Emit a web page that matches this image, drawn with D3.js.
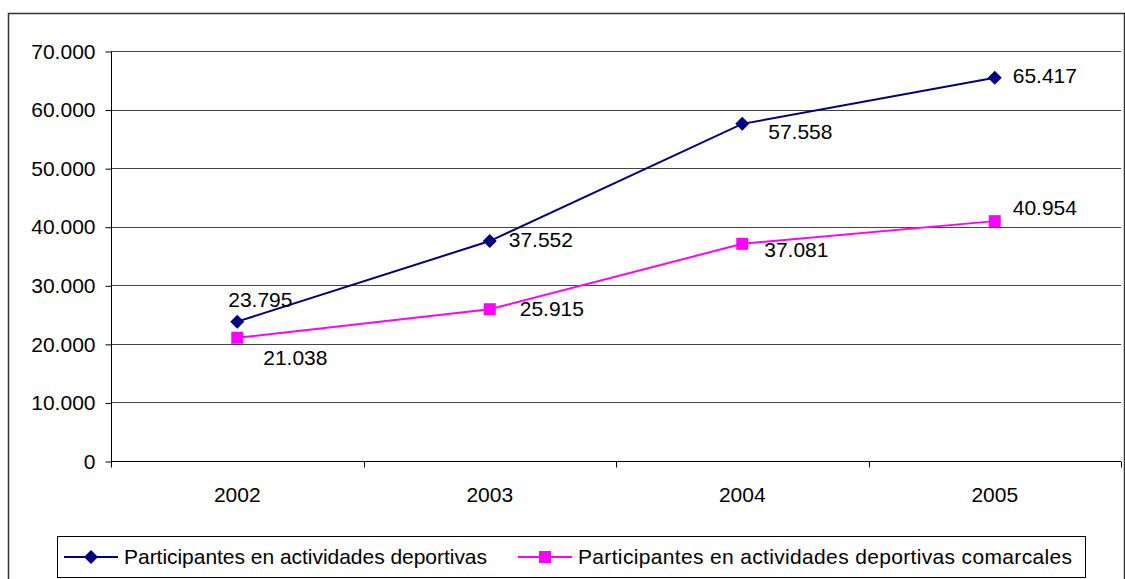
<!DOCTYPE html>
<html>
<head>
<meta charset="utf-8">
<title>Participantes</title>
<script src="https://d3js.org/d3.v7.min.js"></script>
<style>
  body { margin: 0; background: #fff; }
  text { font-family: "Liberation Sans", Arial, sans-serif; fill: #000; }
</style>
</head>
<body>
<div id="chart"></div>
<script>
// data
const years = ["2002", "2003", "2004", "2005"];
const deportivas = [23795, 37552, 57558, 65417];
const comarcales = [21038, 25915, 37081, 40954];
const yTicks = [0, 10000, 20000, 30000, 40000, 50000, 60000, 70000];
const seriesNames = ["Participantes en actividades deportivas", "Participantes en actividades deportivas comarcales"];

// label offsets (dx to text start, dy to baseline, from the marker)
const labelOffsets1 = [[-9, -15], [19, 6], [26, 15], [18, 5]];
const labelOffsets2 = [[26, 27], [30, 7], [22, 13], [18, -6]];

const W = 1125, H = 579;
const FS = 21;
const svg = d3.select("#chart").append("svg")
  .attr("width", W).attr("height", H);

// outer frame
svg.append("rect")
  .attr("x", 8.5).attr("y", 13.5)
  .attr("width", 1116).attr("height", 580)
  .attr("fill", "none").attr("stroke", "#333").attr("stroke-width", 1.5);

const x = d3.scaleBand().domain(years).range([111, 1121]);
const y = d3.scaleLinear().domain([0, 70000]).range([461, 51]);

const loc = d3.formatLocale({ decimal: ",", thousands: ".", grouping: [3], currency: ["", ""] });
const fmt = loc.format(",d");

// gridlines
svg.append("g").selectAll("line").data(yTicks.slice(1)).join("line")
  .attr("x1", 111).attr("x2", 1121)
  .attr("y1", d => Math.round(y(d)) + 0.5).attr("y2", d => Math.round(y(d)) + 0.5)
  .attr("stroke", "#444").attr("stroke-width", 1);

// y axis
const yAxis = svg.append("g").attr("transform", "translate(111.5,0.5)")
  .call(d3.axisLeft(y).tickValues(yTicks).tickSize(6).tickPadding(10)
    .tickFormat(d => d === 0 ? "0" : fmt(d)));
yAxis.select(".domain").attr("stroke", "#000").attr("d", "M0,51V461");
yAxis.selectAll("line").attr("stroke", "#000");
yAxis.selectAll("text").attr("font-size", FS).attr("font-family", "Liberation Sans, Arial, sans-serif");

// x axis
const xAxis = svg.append("g").attr("transform", "translate(0,461.5)");
xAxis.append("line").attr("x1", 111).attr("x2", 1121).attr("stroke", "#000");
const bounds = years.map(d => x(d)).concat([1121]);
xAxis.selectAll(".tk").data(bounds).join("line")
  .attr("x1", d => Math.round(d) + 0.5).attr("x2", d => Math.round(d) + 0.5)
  .attr("y1", 0).attr("y2", 6).attr("stroke", "#000");
xAxis.selectAll(".lb").data(years).join("text")
  .attr("x", d => x(d) + x.bandwidth() / 2).attr("y", 40)
  .attr("text-anchor", "middle").attr("font-size", FS)
  .text(d => d);

const cx = d => x(d) + x.bandwidth() / 2;
const line = d3.line().x((d, i) => cx(years[i])).y(d => y(d));

function drawSeries(vals, color, shape, offsets) {
  svg.append("path").datum(vals)
    .attr("d", line).attr("fill", "none")
    .attr("stroke", color).attr("stroke-width", 2);
  svg.append("g").selectAll("path").data(vals).join("path")
    .attr("transform", (d, i) => `translate(${cx(years[i])},${y(d)})`)
    .attr("d", shape)
    .attr("fill", color);
  svg.append("g").selectAll("text").data(vals).join("text")
    .attr("x", (d, i) => cx(years[i]) + offsets[i][0])
    .attr("y", (d, i) => y(d) + offsets[i][1])
    .attr("font-size", FS)
    .text(d => fmt(d));
}

const diamond = "M0,-7L7,0L0,7L-7,0Z";
const square = "M-6,-6H6V6H-6Z";

drawSeries(comarcales, "#ff00ff", square, labelOffsets2);
drawSeries(deportivas, "#000080", diamond, labelOffsets1);

// legend
const lg = svg.append("g");
lg.append("rect").attr("x", 57.5).attr("y", 536.5).attr("width", 1028).attr("height", 41)
  .attr("fill", "#fff").attr("stroke", "#000").attr("stroke-width", 1);
const legendItems = [
  { name: seriesNames[0], color: "#000080", shape: diamond, x0: 64, len: 363 },
  { name: seriesNames[1], color: "#ff00ff", shape: square, x0: 518, len: 494 }
];
legendItems.forEach(it => {
  lg.append("line").attr("x1", it.x0).attr("x2", it.x0 + 54)
    .attr("y1", 557).attr("y2", 557).attr("stroke", it.color).attr("stroke-width", 2);
  lg.append("path").attr("transform", `translate(${it.x0 + 27},557)`)
    .attr("d", it.shape).attr("fill", it.color);
  lg.append("text").attr("x", it.x0 + 60).attr("y", 564)
    .attr("font-size", FS)
    .attr("textLength", it.len).attr("lengthAdjust", "spacing")
    .text(it.name);
});
</script>
</body>
</html>
